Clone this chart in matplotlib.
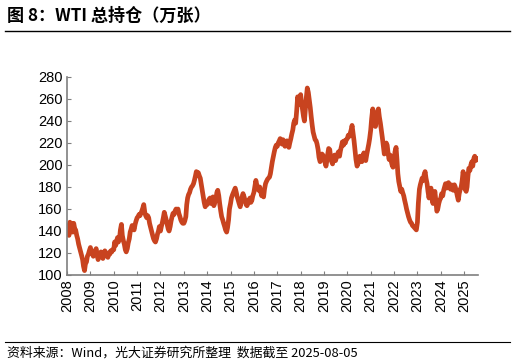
import matplotlib
matplotlib.use("Agg")
import matplotlib.pyplot as plt
import matplotlib.dates as mdates
import pandas as pd
import numpy as np

# Semi-monthly readings of WTI total open interest (10k contracts)
v2008 = [140,145,136,148,143,147,139,147,142,141,136,133,128,125,121,118,114,108,104,110,112,117,119,122]
v2009 = [125,121,119,117,120,122,124,119,114,117,118,121,119,115,119,122,120,118,116,120,119,122,121,123]
v2010 = [123,130,127,131,134,130,133,141,146,136,131,128,123,121,124,129,133,139,142,145,143,141,146,149]
v2011 = [152,153,155,154,156,158,161,164,157,154,152,154,152,147,143,140,136,133,131,130,133,137,140,144]
v2012 = [140,144,148,152,157,154,150,146,142,140,144,149,153,156,155,158,160,158,160,156,153,150,148,147]
v2013 = [147,149,153,164,170,173,175,178,180,181,183,186,190,194,192,193,190,188,182,177,171,166,162,164]
v2014 = [164,167,169,170,165,168,171,163,166,168,175,177,172,165,158,153,150,147,144,141,139,143,150,160]
v2015 = [165,170,173,175,177,179,175,171,168,165,162,166,171,174,171,168,164,163,165,168,170,166,168,172]
v2016 = [175,180,186,182,179,177,180,176,172,175,171,178,183,185,187,188,189,192,198,203,208,212,216,218]
v2017 = [217,220,222,224,222,219,223,221,217,220,222,218,216,220,224,228,232,238,241,238,250,262,255,258]
v2018 = [264,257,250,244,240,250,262,270,266,260,252,244,236,230,226,223,222,219,214,207,203,205,210,209]
v2019 = [206,203,199,204,210,215,214,207,203,201,207,209,204,207,210,212,208,213,217,221,218,222,220,223]
v2020 = [224,227,226,229,232,236,228,222,213,205,199,201,204,208,205,203,208,211,206,204,210,214,219,224]
v2021 = [232,242,251,246,240,235,242,248,251,244,238,232,225,218,210,215,220,218,210,205,209,204,200,198]
v2022 = [204,212,216,205,192,185,180,176,178,175,172,168,164,160,156,153,150,148,147,145,144,143,142,141]
v2023 = [148,165,178,182,185,188,186,191,194,188,183,176,170,176,179,170,165,172,176,168,158,160,165,168]
v2024 = [170,174,172,177,180,183,179,182,184,181,178,182,180,177,182,180,176,172,168,174,178,180,186,194]
v2025 = [186,178,176,180,190,197,195,200,203,199,206,208,204,206,205]

values = (v2008 + v2009 + v2010 + v2011 + v2012 + v2013 + v2014 + v2015 + v2016 +
          v2017 + v2018 + v2019 + v2020 + v2021 + v2022 + v2023 + v2024 + v2025)
dates = pd.date_range("2008-01-01", periods=len(values), freq="SMS")

year_ticks = list(range(2008, 2026))
y_ticks = [100, 120, 140, 160, 180, 200, 220, 240, 260, 280]

title = "图 8：WTI 总持仓（万张）"
source = "资料来源：Wind，光大证券研究所整理  数据截至 2025-08-05"

plt.rcParams['font.family'] = ['Liberation Sans', 'Noto Sans CJK SC']

W, H = 516, 364
fig = plt.figure(figsize=(W/100, H/100), dpi=100)
ax = fig.add_axes([67/W, 1-275/H, (478-67)/W, (275-77)/H])

ax.plot(dates, values, color="#C8431F", lw=3.4, solid_joinstyle="round",
        solid_capstyle="round")

ax.set_ylim(100, 280)
ax.set_yticks(y_ticks)
ax.set_xlim(pd.Timestamp("2008-01-01"), pd.Timestamp("2025-08-05"))
ax.set_xticks([pd.Timestamp(f"{y}-01-01") for y in year_ticks])
ax.xaxis.set_major_formatter(mdates.DateFormatter("%Y"))
for lab in ax.get_xticklabels():
    lab.set_rotation(90)

for s in ["top", "right"]:
    ax.spines[s].set_visible(False)
for s in ["left", "bottom"]:
    ax.spines[s].set_color("#7f7f7f")
    ax.spines[s].set_linewidth(1.2)
ax.tick_params(axis="both", direction="in", length=3, color="#7f7f7f",
               labelsize=10.5, labelcolor="black", pad=3)

fig.text(7/W, 1-16/H, title, fontsize=12.3, fontweight="bold", va="center", ha="left",
         family=['Noto Sans CJK SC'])
fig.add_artist(plt.Line2D([5/W, 510/W], [1-31/H, 1-31/H], color="black", lw=1))
fig.add_artist(plt.Line2D([5/W, 510/W], [1-342/H, 1-342/H], color="black", lw=0.8))
fig.text(7/W, 1-353/H, source, fontsize=9.3, va="center", ha="left",
         family=['Noto Sans CJK SC'])

fig.savefig("out.png", dpi=100)
